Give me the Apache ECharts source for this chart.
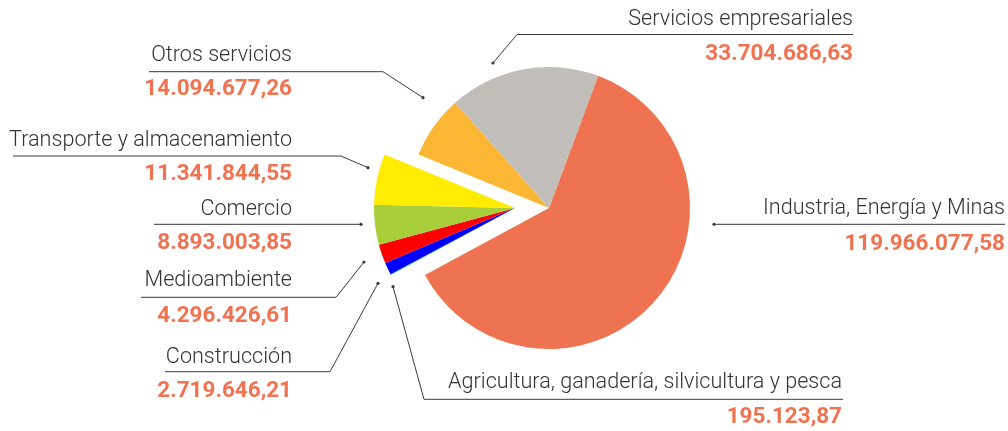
<!DOCTYPE html>
<html>
<head>
<meta charset="utf-8">
<script src="https://cdn.jsdelivr.net/npm/echarts@6/dist/echarts.min.js"></script>
<style>
html,body{margin:0;padding:0;background:#fff;}
#chart{width:1008px;height:431px;}
</style>
</head>
<body>
<div id="chart"></div>
<script>
// ---- data ----
const categories = [
  'Industria, Energía y Minas',
  'Agricultura, ganadería, silvicultura y pesca',
  'Construcción',
  'Medioambiente',
  'Comercio',
  'Transporte y almacenamiento',
  'Otros servicios',
  'Servicios empresariales'
];
const values = [119966077.58, 195123.87, 2719646.21, 4296426.61, 8893003.85, 11341844.55, 14094677.26, 33704686.63];

// ---- styling / layout (not data) ----
const colors = ['#EF7350', '#3FC1E5', '#0000FF', '#FF0000', '#A8CF3A', '#FFEC00', '#FBB634', '#C1BDB9'];
const inMainPie = [true, false, false, false, false, false, true, true];
const nameFont = "Roboto, 'Liberation Sans', sans-serif";
const valueFont = "Roboto, 'Liberation Sans', sans-serif";
const labelLayout = [
  {x: 1005, ny: 209, vy: 244, line: [[714,224.3],[1005,224.3]]},
  {x: 842,  ny: 383, vy: 417, line: [[393,286.7],[424,399.3],[843,399.3]]},
  {x: 292,  ny: 358, vy: 391, line: [[378,283.3],[330,371.7],[165,371.7]]},
  {x: 292,  ny: 281, vy: 316, line: [[364,262],[336,297.3],[141,297.3]]},
  {x: 292,  ny: 210, vy: 243, line: [[361,224.3],[154,224.3]]},
  {x: 292,  ny: 141, vy: 174, line: [[368,167.7],[341,156],[13,156]]},
  {x: 292,  ny: 55.5, vy: 89, line: [[423,97.7],[383,71.7],[149,71.7]]},
  {x: 853,  ny: 20,  vy: 54, line: [[493,63],[517,34.5],[853,34.5]]}
];

function fmt(n) {
  const parts = n.toFixed(2).split('.');
  return parts[0].replace(/\B(?=(\d{3})+(?!\d))/g, '.') + ',' + parts[1];
}

function seriesData(mainFlag) {
  return categories.map((c, i) => ({
    name: c,
    value: values[i],
    itemStyle: {color: inMainPie[i] === mainFlag ? colors[i] : 'rgba(0,0,0,0)'}
  }));
}

const pieBase = {
  type: 'pie',
  radius: 141,
  startAngle: 69.6,
  clockwise: true,
  silent: true,
  animation: false,
  label: {show: false},
  labelLine: {show: false},
  itemStyle: {borderWidth: 0}
};

const graphics = [];
categories.forEach((c, i) => {
  const L = labelLayout[i];
  graphics.push({
    type: 'polyline', silent: true,
    shape: {points: L.line},
    style: {stroke: '#3a3a3a', lineWidth: 1, fill: null}
  });
  graphics.push({
    type: 'circle', silent: true,
    shape: {cx: L.line[0][0], cy: L.line[0][1], r: 1.6},
    style: {fill: '#3a3a3a'}
  });
  graphics.push({
    type: 'text', silent: true,
    style: {text: c, x: L.x, y: L.ny, align: 'right', verticalAlign: 'middle',
            fontFamily: nameFont, fontSize: 21.6, fontWeight: 300, fill: '#333333'}
  });
  graphics.push({
    type: 'text', silent: true,
    style: {text: fmt(values[i]), x: L.x, y: L.vy, align: 'right', verticalAlign: 'middle',
            fontFamily: valueFont, fontSize: 22.5, fontWeight: 'bold', fill: '#EF7350'}
  });
});

const chart = echarts.init(document.getElementById('chart'));
chart.setOption({
  backgroundColor: '#ffffff',
  animation: false,
  series: [
    Object.assign({}, pieBase, {center: [549, 208], data: seriesData(true)}),
    Object.assign({}, pieBase, {center: [515, 208], data: seriesData(false)})
  ],
  graphic: graphics
});
</script>
</body>
</html>
